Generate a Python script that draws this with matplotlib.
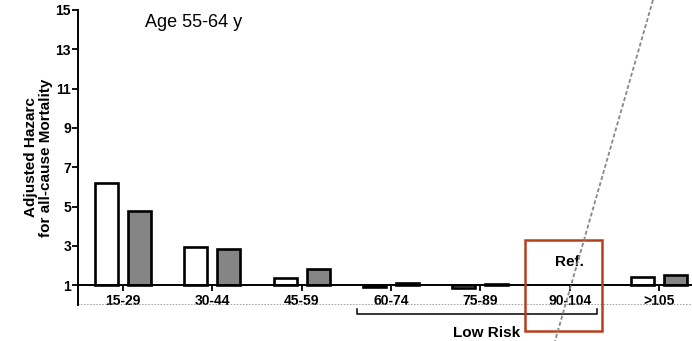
import matplotlib.pyplot as plt
import numpy as np
from matplotlib.lines import Line2D
from matplotlib.patches import Rectangle

plt.rcParams["font.family"] = ["Liberation Sans", "DejaVu Sans"]

categories = ["15-29", "30-44", "45-59", "60-74", "75-89", "90-104", ">105"]
white_values = [6.2, 2.95, 1.39, 0.93, 0.85, np.nan, 1.4]
gray_values = [4.78, 2.84, 1.82, 1.1, 1.05, np.nan, 1.55]
y_ticks = [1, 3, 5, 7, 9, 11, 13, 15]

BAR_W = 0.26
OFFSET = 0.185
EDGE = 1.9

fig = plt.figure(figsize=(6.92, 3.41), dpi=100)
ax = fig.add_axes([0.1127, 0.1056, 0.8873, 0.8651])

x = np.arange(len(categories))
white = np.array(white_values)
gray = np.array(gray_values)
ax.bar(x - OFFSET, white - 1, bottom=1, width=BAR_W, color="white",
       edgecolor="black", linewidth=EDGE, zorder=3)
ax.bar(x + OFFSET, gray - 1, bottom=1, width=BAR_W, color="#858585",
       edgecolor="black", linewidth=EDGE, zorder=3)

ax.set_xlim(-0.504, 6.37)
ax.set_ylim(0, 15)
ax.set_yticks(y_ticks)
ax.set_yticklabels([str(t) for t in y_ticks])
ax.set_xticks(x)
ax.set_xticklabels(categories)

for side in ("top", "right"):
    ax.spines[side].set_visible(False)
ax.spines["left"].set_linewidth(1.4)
ax.spines["bottom"].set_position(("data", 1))
ax.spines["bottom"].set_linewidth(1.4)
ax.spines["bottom"].set_zorder(4)
ax.tick_params(axis="both", direction="out", length=4, width=1.3, pad=1)
ax.tick_params(axis="x", pad=2)
for lbl in ax.get_xticklabels() + ax.get_yticklabels():
    lbl.set_fontweight("bold")
    lbl.set_fontsize(10)
ax.axhline(0, color="#888888", linestyle=(0, (1, 1)), linewidth=1.1)

ax.set_ylabel("Adjusted Hazarc\nfor all-cause Mortality", fontsize=11,
              fontweight="bold", linespacing=1.15, labelpad=1.5)
ax.text(0.25, 14.8, "Age 55-64 y", fontsize=13, ha="left", va="top")

# reference group box
ax.add_patch(Rectangle((4.50, -1.32), 0.86, 4.62, fill=False,
                       edgecolor="#b5401e", linewidth=1.8, clip_on=False, zorder=5))
ax.text(5.0, 2.19, "Ref.", fontsize=11, fontweight="bold", ha="center", va="center")

# low risk bracket
ax.plot([2.62, 2.62, 5.31, 5.31], [-0.2, -0.46, -0.46, -0.2], color="black",
        linewidth=1.1, clip_on=False)
ax.text(4.07, -1.42, "Low Risk", fontsize=11, fontweight="bold",
        ha="center", va="center", clip_on=False)

fig.add_artist(Line2D([653 / 692, 555 / 692], [1.0, 0.0], color="#888888",
                      linestyle=(0, (2.2, 1.3)), linewidth=1.3))

fig.savefig("out.png", dpi=100)
